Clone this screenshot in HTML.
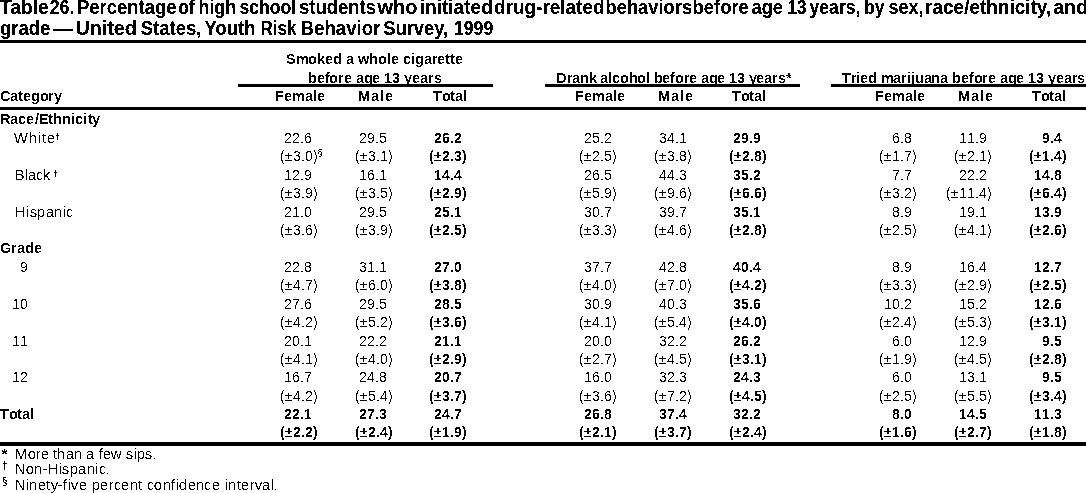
<!DOCTYPE html>
<html lang="en">
<head>
<meta charset="utf-8">
<title>Table 26</title>
<style>
html,body{margin:0;padding:0;background:#fff;}
body{width:1086px;height:493px;overflow:hidden;}
svg{display:block;}
text{font-family:"Liberation Sans",Arial,Helvetica,sans-serif;font-size:14px;fill:#000;white-space:pre;}
.t{font-weight:bold;font-size:19.5px;}
.b{font-weight:bold;}
.h{font-weight:bold;font-size:14.6px;}
.l{font-size:15px;}
.sup{font-size:9px;font-weight:bold;}
.sec{font-size:9px;}
.f{font-size:15px;}
.fs{font-size:10px;}
.fa{font-size:15px;font-weight:bold;}
rect{fill:#000;}
</style>
</head>
<body>
<svg width="1086" height="493" viewBox="0 0 1086 493">
<defs><filter id="th" x="0" y="0" width="1086" height="493" filterUnits="userSpaceOnUse" color-interpolation-filters="sRGB"><feComponentTransfer><feFuncA type="discrete" tableValues="0 0 0 0 0 0 0 0 0 0 0 1 1 1 1 1 1 1 1 1"/></feComponentTransfer></filter>
<filter id="tb" x="0" y="0" width="1086" height="493" filterUnits="userSpaceOnUse" color-interpolation-filters="sRGB"><feComponentTransfer><feFuncA type="discrete" tableValues="0 0 1 1 1"/></feComponentTransfer></filter></defs>
<g filter="url(#tb)">
<text y="14" class="t"><tspan x="0" textLength="48.8" lengthAdjust="spacingAndGlyphs">Table</tspan> <tspan x="49.7" textLength="24.8" lengthAdjust="spacingAndGlyphs">26.</tspan> <tspan x="77" textLength="99.5" lengthAdjust="spacingAndGlyphs">Percentage</tspan> <tspan x="178.2" textLength="16.3" lengthAdjust="spacingAndGlyphs">of</tspan> <tspan x="198.5" textLength="37.7" lengthAdjust="spacingAndGlyphs">high</tspan> <tspan x="239.5" textLength="56.7" lengthAdjust="spacingAndGlyphs">school</tspan> <tspan x="299" textLength="77" lengthAdjust="spacingAndGlyphs">students</tspan> <tspan x="377.5" textLength="40" lengthAdjust="spacingAndGlyphs">who</tspan> <tspan x="419.7" textLength="73.1" lengthAdjust="spacingAndGlyphs">initiated</tspan> <tspan x="494.1" textLength="110.4" lengthAdjust="spacingAndGlyphs">drug-related</tspan> <tspan x="605.5" textLength="86.6" lengthAdjust="spacingAndGlyphs">behaviors</tspan> <tspan x="692.6" textLength="56.2" lengthAdjust="spacingAndGlyphs">before</tspan> <tspan x="751.5" textLength="31.5" lengthAdjust="spacingAndGlyphs">age</tspan> <tspan x="787.5" textLength="19" lengthAdjust="spacingAndGlyphs">13</tspan> <tspan x="809.5" textLength="51" lengthAdjust="spacingAndGlyphs">years,</tspan> <tspan x="864" textLength="20.5" lengthAdjust="spacingAndGlyphs">by</tspan> <tspan x="888.5" textLength="35" lengthAdjust="spacingAndGlyphs">sex,</tspan> <tspan x="925.1" textLength="126.2" lengthAdjust="spacingAndGlyphs">race/ethnicity,</tspan> <tspan x="1053.2" textLength="34.8" lengthAdjust="spacingAndGlyphs">and</tspan></text>
<text y="35" class="t"><tspan x="0" textLength="50.4" lengthAdjust="spacingAndGlyphs">grade</tspan> <tspan x="53.5" textLength="19.8" lengthAdjust="spacingAndGlyphs">—</tspan> <tspan x="75.5" textLength="61.4" lengthAdjust="spacingAndGlyphs">United</tspan> <tspan x="140.7" textLength="60.8" lengthAdjust="spacingAndGlyphs">States,</tspan> <tspan x="204.5" textLength="51" lengthAdjust="spacingAndGlyphs">Youth</tspan> <tspan x="260.5" textLength="36" lengthAdjust="spacingAndGlyphs">Risk</tspan> <tspan x="300.5" textLength="80" lengthAdjust="spacingAndGlyphs">Behavior</tspan> <tspan x="383.25" textLength="64.85" lengthAdjust="spacingAndGlyphs">Survey,</tspan> <tspan x="454" textLength="39.2" lengthAdjust="spacingAndGlyphs">1999</tspan></text>
<text x="1.5" y="458.5" class="fa">*</text>
<text x="2" y="468.5" class="fs">†</text>
<text x="2" y="484.5" class="fs">§</text>
<text x="55" y="140" class="sup">†</text>
<text x="317.5" y="156" class="sec">§</text>
<text x="53" y="177" class="sup">†</text>
</g>
<g filter="url(#th)">
<rect x="0" y="40" width="1086" height="3"/>
<rect x="0" y="107" width="1086" height="3"/>
<rect x="0" y="442" width="1086" height="4"/>
<rect x="238" y="84" width="255" height="3"/>
<rect x="545" y="84" width="255" height="3"/>
<rect x="831" y="84" width="255" height="3"/>
<text x="286 296 308 317 325 333 342 346 354 358 369 378 387 391 399 403 411 415 424 432 437 445 450 455" y="64" class="h">Smoked a whole cigarette</text>
<text x="308 317 325 329 338 344 352 356 364 372 380 384 392 400 404 412 420 428 434" y="83" class="h">before age 13 years</text>
<text x="556 567 572 580 589 596 600 608 612 620 629 637 646 650 654 662 670 675 684 689 697 701 709 717 725 729 737 745 749 756 764 772 778 786" y="83" class="h">Drank alcohol before age 13 years*</text>
<text x="842 851 856 860 868 877 881 893 901 907 911 915 924 931 940 948 952 961 969 974 982 988 996 1000 1008 1016 1024 1028 1036 1044 1048 1056 1064 1072 1077" y="83" class="h">Tried marijuana before age 13 years</text>
<text x="0 10 18 23 31 40 48 54" y="101" class="h">Category</text>
<text x="275 284 292 305 313 317" y="101" class="h">Female</text>
<text x="358 371 380 385" y="101" class="h">Male</text>
<text x="433 442 450 455 463" y="101" class="h">Total</text>
<text x="575 584 592 605 613 617" y="101" class="h">Female</text>
<text x="658 671 680 685" y="101" class="h">Male</text>
<text x="732 741 749 754 762" y="101" class="h">Total</text>
<text x="875 884 892 905 913 917" y="101" class="h">Female</text>
<text x="958 971 980 985" y="101" class="h">Male</text>
<text x="1032 1041 1049 1054 1062" y="101" class="h">Total</text>
<text x="0 10 18 26 35 39 48 53 62 71 75 83 88 92" y="124" class="h">Race/Ethnicity</text>
<text x="13.7 28.7 37.7 41.7 46.7" y="143" class="l">White</text>
<text x="284 292 300 304" y="143">22.6</text>
<text x="280 285 293 301 305 313" y="161">(±3.0)</text>
<text x="359 367 375 379" y="143">29.5</text>
<text x="355 360 368 376 380 388" y="161">(±3.1)</text>
<text x="434 442 450 454" y="143" class="b">26.2</text>
<text x="429 434 442 450 454 462" y="161" class="b">(±2.3)</text>
<text x="584 592 600 604" y="143">25.2</text>
<text x="579 584 592 600 604 612" y="161">(±2.5)</text>
<text x="659 667 675 679" y="143">34.1</text>
<text x="654 659 667 675 679 687" y="161">(±3.8)</text>
<text x="733 741 749 753" y="143" class="b">29.9</text>
<text x="729 734 742 750 754 762" y="161" class="b">(±2.8)</text>
<text x="892 900 904" y="143">6.8</text>
<text x="879 884 892 900 904 912" y="161">(±1.7)</text>
<text x="959 967 975 979" y="143">11.9</text>
<text x="954 959 967 975 979 987" y="161">(±2.1)</text>
<text x="1042 1050 1054" y="143" class="b">9.4</text>
<text x="1029 1034 1042 1050 1054 1062" y="161" class="b">(±1.4)</text>
<text x="14.7 24.7 27.7 35.7 42.7" y="180" class="l">Black</text>
<text x="284 292 300 304" y="180">12.9</text>
<text x="280 285 293 301 305 313" y="198">(±3.9)</text>
<text x="359 367 375 379" y="180">16.1</text>
<text x="355 360 368 376 380 388" y="198">(±3.5)</text>
<text x="434 442 450 454" y="180" class="b">14.4</text>
<text x="429 434 442 450 454 462" y="198" class="b">(±2.9)</text>
<text x="584 592 600 604" y="180">26.5</text>
<text x="579 584 592 600 604 612" y="198">(±5.9)</text>
<text x="659 667 675 679" y="180">44.3</text>
<text x="654 659 667 675 679 687" y="198">(±9.6)</text>
<text x="733 741 749 753" y="180" class="b">35.2</text>
<text x="729 734 742 750 754 762" y="198" class="b">(±6.6)</text>
<text x="892 900 904" y="180">7.7</text>
<text x="879 884 892 900 904 912" y="198">(±3.2)</text>
<text x="959 967 975 979" y="180">22.2</text>
<text x="946 951 959 967 975 979 987" y="198">(±11.4)</text>
<text x="1034 1042 1050 1054" y="180" class="b">14.8</text>
<text x="1029 1034 1042 1050 1054 1062" y="198" class="b">(±6.4)</text>
<text x="14.7 25.7 29.7 36.7 45.7 53.7 62.7 65.7" y="217" class="l">Hispanic</text>
<text x="284 292 300 304" y="217">21.0</text>
<text x="280 285 293 301 305 313" y="235">(±3.6)</text>
<text x="359 367 375 379" y="217">29.5</text>
<text x="355 360 368 376 380 388" y="235">(±3.9)</text>
<text x="434 442 450 454" y="217" class="b">25.1</text>
<text x="429 434 442 450 454 462" y="235" class="b">(±2.5)</text>
<text x="584 592 600 604" y="217">30.7</text>
<text x="579 584 592 600 604 612" y="235">(±3.3)</text>
<text x="659 667 675 679" y="217">39.7</text>
<text x="654 659 667 675 679 687" y="235">(±4.6)</text>
<text x="733 741 749 753" y="217" class="b">35.1</text>
<text x="729 734 742 750 754 762" y="235" class="b">(±2.8)</text>
<text x="892 900 904" y="217">8.9</text>
<text x="879 884 892 900 904 912" y="235">(±2.5)</text>
<text x="959 967 975 979" y="217">19.1</text>
<text x="954 959 967 975 979 987" y="235">(±4.1)</text>
<text x="1034 1042 1050 1054" y="217" class="b">13.9</text>
<text x="1029 1034 1042 1050 1054 1062" y="235" class="b">(±2.6)</text>
<text x="0 11 17 25 34" y="253" class="h">Grade</text>
<text x="20" y="272">9</text>
<text x="284 292 300 304" y="272">22.8</text>
<text x="280 285 293 301 305 313" y="290">(±4.7)</text>
<text x="359 367 375 379" y="272">31.1</text>
<text x="355 360 368 376 380 388" y="290">(±6.0)</text>
<text x="434 442 450 454" y="272" class="b">27.0</text>
<text x="429 434 442 450 454 462" y="290" class="b">(±3.8)</text>
<text x="584 592 600 604" y="272">37.7</text>
<text x="579 584 592 600 604 612" y="290">(±4.0)</text>
<text x="659 667 675 679" y="272">42.8</text>
<text x="654 659 667 675 679 687" y="290">(±7.0)</text>
<text x="733 741 749 753" y="272" class="b">40.4</text>
<text x="729 734 742 750 754 762" y="290" class="b">(±4.2)</text>
<text x="892 900 904" y="272">8.9</text>
<text x="879 884 892 900 904 912" y="290">(±3.3)</text>
<text x="959 967 975 979" y="272">16.4</text>
<text x="954 959 967 975 979 987" y="290">(±2.9)</text>
<text x="1034 1042 1050 1054" y="272" class="b">12.7</text>
<text x="1029 1034 1042 1050 1054 1062" y="290" class="b">(±2.5)</text>
<text x="12 20" y="309">10</text>
<text x="284 292 300 304" y="309">27.6</text>
<text x="280 285 293 301 305 313" y="327">(±4.2)</text>
<text x="359 367 375 379" y="309">29.5</text>
<text x="355 360 368 376 380 388" y="327">(±5.2)</text>
<text x="434 442 450 454" y="309" class="b">28.5</text>
<text x="429 434 442 450 454 462" y="327" class="b">(±3.6)</text>
<text x="584 592 600 604" y="309">30.9</text>
<text x="579 584 592 600 604 612" y="327">(±4.1)</text>
<text x="659 667 675 679" y="309">40.3</text>
<text x="654 659 667 675 679 687" y="327">(±5.4)</text>
<text x="733 741 749 753" y="309" class="b">35.6</text>
<text x="729 734 742 750 754 762" y="327" class="b">(±4.0)</text>
<text x="884 892 900 904" y="309">10.2</text>
<text x="879 884 892 900 904 912" y="327">(±2.4)</text>
<text x="959 967 975 979" y="309">15.2</text>
<text x="954 959 967 975 979 987" y="327">(±5.3)</text>
<text x="1034 1042 1050 1054" y="309" class="b">12.6</text>
<text x="1029 1034 1042 1050 1054 1062" y="327" class="b">(±3.1)</text>
<text x="12 20" y="346">11</text>
<text x="284 292 300 304" y="346">20.1</text>
<text x="280 285 293 301 305 313" y="364">(±4.1)</text>
<text x="359 367 375 379" y="346">22.2</text>
<text x="355 360 368 376 380 388" y="364">(±4.0)</text>
<text x="434 442 450 454" y="346" class="b">21.1</text>
<text x="429 434 442 450 454 462" y="364" class="b">(±2.9)</text>
<text x="584 592 600 604" y="346">20.0</text>
<text x="579 584 592 600 604 612" y="364">(±2.7)</text>
<text x="659 667 675 679" y="346">32.2</text>
<text x="654 659 667 675 679 687" y="364">(±4.5)</text>
<text x="733 741 749 753" y="346" class="b">26.2</text>
<text x="729 734 742 750 754 762" y="364" class="b">(±3.1)</text>
<text x="892 900 904" y="346">6.0</text>
<text x="879 884 892 900 904 912" y="364">(±1.9)</text>
<text x="959 967 975 979" y="346">12.9</text>
<text x="954 959 967 975 979 987" y="364">(±4.5)</text>
<text x="1042 1050 1054" y="346" class="b">9.5</text>
<text x="1029 1034 1042 1050 1054 1062" y="364" class="b">(±2.8)</text>
<text x="12 20" y="382">12</text>
<text x="284 292 300 304" y="382">16.7</text>
<text x="280 285 293 301 305 313" y="401">(±4.2)</text>
<text x="359 367 375 379" y="382">24.8</text>
<text x="355 360 368 376 380 388" y="401">(±5.4)</text>
<text x="434 442 450 454" y="382" class="b">20.7</text>
<text x="429 434 442 450 454 462" y="401" class="b">(±3.7)</text>
<text x="584 592 600 604" y="382">16.0</text>
<text x="579 584 592 600 604 612" y="401">(±3.6)</text>
<text x="659 667 675 679" y="382">32.3</text>
<text x="654 659 667 675 679 687" y="401">(±7.2)</text>
<text x="733 741 749 753" y="382" class="b">24.3</text>
<text x="729 734 742 750 754 762" y="401" class="b">(±4.5)</text>
<text x="892 900 904" y="382">6.0</text>
<text x="879 884 892 900 904 912" y="401">(±2.5)</text>
<text x="959 967 975 979" y="382">13.1</text>
<text x="954 959 967 975 979 987" y="401">(±5.5)</text>
<text x="1042 1050 1054" y="382" class="b">9.5</text>
<text x="1029 1034 1042 1050 1054 1062" y="401" class="b">(±3.4)</text>
<text x="0 9 17 22 30" y="419" class="h">Total</text>
<text x="284 292 300 304" y="419" class="b">22.1</text>
<text x="280 285 293 301 305 313" y="437" class="b">(±2.2)</text>
<text x="359 367 375 379" y="419" class="b">27.3</text>
<text x="355 360 368 376 380 388" y="437" class="b">(±2.4)</text>
<text x="434 442 450 454" y="419" class="b">24.7</text>
<text x="429 434 442 450 454 462" y="437" class="b">(±1.9)</text>
<text x="584 592 600 604" y="419" class="b">26.8</text>
<text x="579 584 592 600 604 612" y="437" class="b">(±2.1)</text>
<text x="659 667 675 679" y="419" class="b">37.4</text>
<text x="654 659 667 675 679 687" y="437" class="b">(±3.7)</text>
<text x="733 741 749 753" y="419" class="b">32.2</text>
<text x="729 734 742 750 754 762" y="437" class="b">(±2.4)</text>
<text x="892 900 904" y="419" class="b">8.0</text>
<text x="879 884 892 900 904 912" y="437" class="b">(±1.6)</text>
<text x="959 967 975 979" y="419" class="b">14.5</text>
<text x="954 959 967 975 979 987" y="437" class="b">(±2.7)</text>
<text x="1034 1042 1050 1054" y="419" class="b">11.3</text>
<text x="1029 1034 1042 1050 1054 1062" y="437" class="b">(±1.8)</text>
<text x="14.7 27.7 35.7 40.7 48.7 52.7 56.7 65.7 73.7 81.7 85.7 94.7 98.7 102.7 110.7 121.7 125.7 133.7 136.7 144.7 152.7" y="459" class="f">More than a few sips.</text>
<text x="14.7 25.7 33.7 42.7 47.7 58.7 61.7 69.7 77.7 86.7 94.7 98.7 105.7" y="474" class="f">Non-Hispanic.</text>
<text x="14.7 25.7 28.7 37.7 45.7 50.7 57.7 62.7 67.7 70.7 78.7 86.7 91.7 99.7 108.7 113.7 120.7 129.7 137.7 141.7 146.7 153.7 162.7 170.7 175.7 178.7 187.7 195.7 203.7 211.7 220.7 224.7 227.7 236.7 240.7 249.7 254.7 261.7 270.7 273.7" y="490" class="f">Ninety-five percent confidence interval.</text>
</g>
</svg>
</body>
</html>
